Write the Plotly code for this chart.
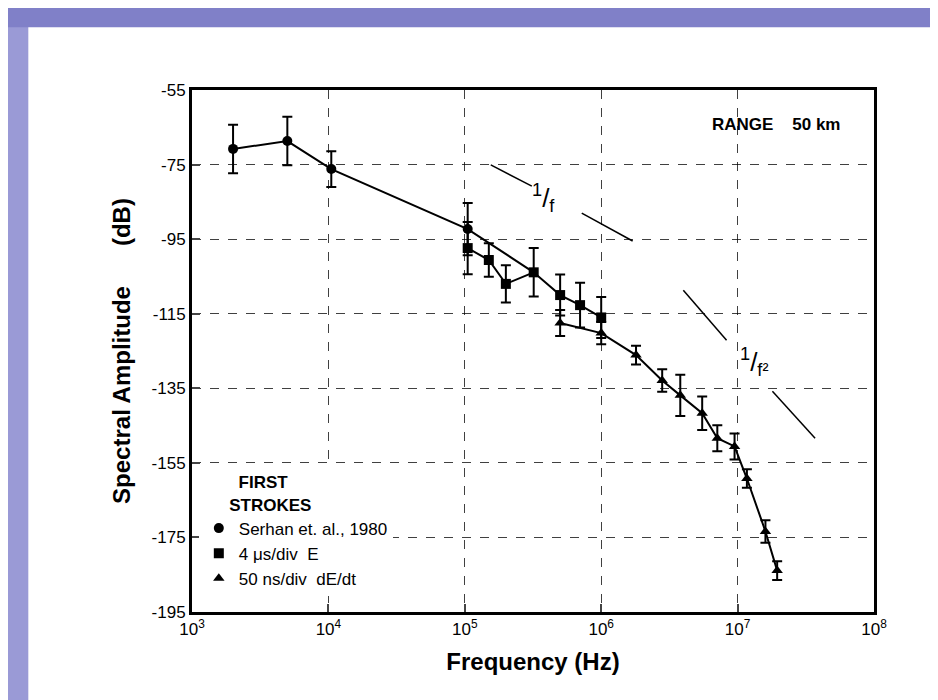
import plotly.graph_objects as go

# Serhan et al. 1980 (dots)
dot_f = [2e3, 5e3, 1.05e4, 1.05e5]
dot_db = [-70.8, -68.7, -76.2, -92.3]
dot_err = [6.5, 6.5, 4.8, 7.0]

# 4 us/div E (squares)
sq_f = [1.05e5, 1.5e5, 2e5, 3.2e5, 5e5, 7e5, 1e6]
sq_db = [-97.4, -100.6, -107.0, -103.9, -110.0, -112.7, -116.0]
sq_err = [7.0, 4.5, 5.0, 6.5, 5.5, 6.0, 5.5]

# 50 ns/div dE/dt (triangles)
tri_f = [5e5, 1e6, 1.8e6, 2.8e6, 3.8e6, 5.5e6, 7.1e6, 9.5e6, 1.17e7, 1.6e7, 1.95e7]
tri_db = [-117.5, -120.2, -126.1, -132.9, -136.9, -141.7, -148.4, -150.6, -159.2, -173.4, -183.9]
tri_err = [3.5, 3.0, 2.5, 3.0, 5.5, 4.5, 3.5, 3.5, 2.5, 3.0, 2.5]

y_ticks = [-55, -75, -95, -115, -135, -155, -175, -195]
x_ticks = [1e3, 1e4, 1e5, 1e6, 1e7, 1e8]
x_labels = ["10<sup>3</sup>", "10<sup>4</sup>", "10<sup>5</sup>",
            "10<sup>6</sup>", "10<sup>7</sup>", "10<sup>8</sup>"]

# reference slope segments
f1_x = [[1.55e5, 3.1e5], [7.2e5, 1.7e6]]
f1_y = [[-75.1, -80.8], [-88.0, -95.5]]
f2_x = [[4.0e6, 8.3e6], [1.8e7, 3.7e7]]
f2_y = [[-108.7, -122.1], [-135.8, -148.4]]

fig = go.Figure()
line = dict(color="black", width=2)

# connecting lines
fig.add_trace(go.Scatter(x=dot_f + [sq_f[3]], y=dot_db + [sq_db[3]], mode="lines",
                         line=line, showlegend=False))
fig.add_trace(go.Scatter(x=sq_f, y=sq_db, mode="lines", line=line, showlegend=False))
fig.add_trace(go.Scatter(x=tri_f, y=tri_db, mode="lines", line=line, showlegend=False))

eb = dict(type="data", color="black", thickness=2, width=5)
fig.add_trace(go.Scatter(x=dot_f, y=dot_db, mode="markers", name="Serhan et. al., 1980",
                         marker=dict(symbol="circle", size=10, color="black"),
                         error_y=dict(array=dot_err, **eb)))
fig.add_trace(go.Scatter(x=sq_f, y=sq_db, mode="markers", name="4 μs/div  E",
                         marker=dict(symbol="square", size=10, color="black"),
                         error_y=dict(array=sq_err, **eb)))
fig.add_trace(go.Scatter(x=tri_f, y=tri_db, mode="markers", name="50 ns/div  dE/dt",
                         marker=dict(symbol="triangle-up", size=10, color="black"),
                         error_y=dict(array=tri_err, **eb)))

for xs, ys in zip(f1_x + f2_x, f1_y + f2_y):
    fig.add_trace(go.Scatter(x=xs, y=ys, mode="lines", line=dict(color="black", width=1.5),
                             showlegend=False))

font = "Liberation Sans"
fig.add_annotation(x=5.58, y=-84, xref="x", yref="y", text="<sup>1</sup>/<sub>f</sub>",
                   showarrow=False, font=dict(size=26, family=font, color="black"))
fig.add_annotation(x=7.12, y=-128, xref="x", yref="y", text="<sup>1</sup>/<sub>f²</sub>",
                   showarrow=False, font=dict(size=26, family=font, color="black"))
fig.add_annotation(x=0.955, y=0.955, xref="paper", yref="paper", xanchor="right",
                   text="<b>RANGE    50 km</b>", showarrow=False,
                   font=dict(size=17, family=font, color="black"))

# slide decoration
fig.add_shape(type="rect", xref="paper", yref="paper", x0=-0.4, x1=-0.24, y0=-0.3, y1=1.3,
              fillcolor="#9a9ad6", line_width=0, layer="below")
fig.add_shape(type="rect", xref="paper", yref="paper", x0=-0.4, x1=1.3, y0=1.12, y1=1.3,
              fillcolor="#8080c8", line_width=0, layer="below")

grid = dict(showgrid=True, gridcolor="rgba(0,0,0,0.75)", griddash="dash", gridwidth=1)
fig.update_xaxes(type="log", range=[3, 8], tickvals=x_ticks, ticktext=x_labels,
                 ticks="inside", ticklen=8, tickwidth=2, showline=True, linewidth=3,
                 linecolor="black", mirror=True, zeroline=False,
                 title=dict(text="<b>Frequency (Hz)</b>", font=dict(size=24, family=font)),
                 tickfont=dict(size=17, family=font, color="black"), **grid)
fig.update_yaxes(range=[-195, -55], tickvals=y_ticks, ticktext=[str(v) for v in y_ticks],
                 ticks="inside", ticklen=8, tickwidth=2, showline=True, linewidth=3,
                 linecolor="black", mirror=True, zeroline=False,
                 title=dict(text="<b>Spectral Amplitude      (dB)</b>", font=dict(size=24, family=font)),
                 tickfont=dict(size=17, family=font, color="black"), **grid)

fig.update_layout(width=938, height=700, margin=dict(l=184, r=72, t=82, b=96),
                  plot_bgcolor="white", paper_bgcolor="white",
                  font=dict(family=font, color="black"),
                  legend=dict(x=0.01, y=0.03, xanchor="left", yanchor="bottom",
                              bgcolor="white", font=dict(size=17, family=font),
                              title=dict(text="<b>        FIRST<br>      STROKES</b>",
                                         font=dict(size=17, family=font)),
                              itemwidth=30, tracegroupgap=2))

fig.write_html("out.html")
